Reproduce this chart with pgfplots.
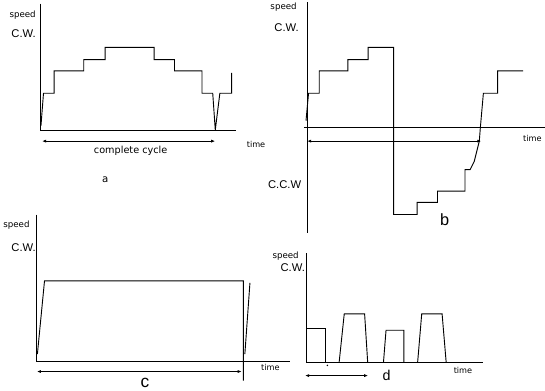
\documentclass[border=0pt]{standalone}
\usepackage{pgfplots}
\pgfplotsset{compat=1.18}
\usepackage{fontspec}
\setmainfont{Liberation Sans}
\newfontfamily\dejavu{DejaVu Sans}
\usetikzlibrary{arrows.meta}
\pgfplotsset{ln/.style={black, solid, line width=0.9pt, mark=none},
  arr/.style={black, solid, line width=0.8pt, mark=none, {Latex[length=4pt,width=3pt]}-{Latex[length=4pt,width=3pt]}}}
\tikzset{sp/.style={font=\dejavu\fontsize{8.5}{9}\selectfont},
  tm/.style={font=\dejavu\fontsize{8}{9}\selectfont},
  cw/.style={font=\fontsize{11}{12}\selectfont}}
\begin{document}
\begin{tikzpicture}
\begin{axis}[
  scale only axis, width=545pt, height=389pt,
  xmin=0, xmax=545, ymin=0, ymax=389, y dir=reverse,
  hide axis, clip=false,
]
% ---- axes lines ----
\addplot[ln] coordinates {(51,8) (51,133) (242,133)};
\addplot[ln] coordinates {(312,7) (312,233)};
\addplot[ln] coordinates {(309,130) (545,130)};
\addplot[ln] coordinates {(47,215) (47,359) (295,359)};
\addplot[ln] coordinates {(311,253) (311,360) (485,360)};
% ---- panel a ----
\addplot[ln] coordinates {(51,128) (53.5,96) (64,96) (64,74) (93,74) (93,63) (114,63) (114,51) (162,51) (162,63) (182,63) (182,74) (209,74) (209,96) (219.5,96) (222,132) (226.5,96) (238,96) (238,76)};
% ---- panel b ----
\addplot[ln] coordinates {(311,123) (313.5,96) (324,96) (324,74) (352,74) (352,63) (372,63) (372,51) (397,51) (397,215) (420,215) (420,203) (440,203) (440,192) (467,192) (467,171) (472,171) (476,163) (481,143) (482,130) (485,96) (499,96) (499,74) (524,74)};
% ---- panel c ----
\addplot[ln] coordinates {(47.5,352) (54.5,280) (249.5,280) (249.5,378)};
\addplot[ln] coordinates {(251,352) (256,282)};
% ---- panel d ----
\addplot[ln] coordinates {(311,360) (311,327) (330,327) (330,360)};
\addplot[ln] coordinates {(343.5,360) (348.5,312.5) (368.5,312.5) (371.5,360)};
\addplot[ln] coordinates {(387,360) (389.5,328.5) (407,328.5) (407,360)};
\addplot[ln] coordinates {(420.5,360) (424.5,312.5) (444.5,312.5) (448.5,360)};
\addplot [black, only marks, mark=*, mark size=0.5pt] coordinates {(332,363)};
% ---- cycle arrows ----
\addplot[arr] coordinates {(52,143) (222,143)};
\addplot[arr] coordinates {(312,143) (483,143)};
\addplot[arr] coordinates {(47,369) (248,369)};
\addplot[arr] coordinates {(310,373) (372,373)};
% ---- texts ----
\node[sp] at (axis cs:33,19) {speed};
\node[cw] at (axis cs:34,38) {C.W.};
\node[tm] at (axis cs:262,146) {time};
\node[font=\dejavu\fontsize{9.5}{10}\selectfont] at (axis cs:139,153) {complete cycle};
\node[font=\dejavu\fontsize{10}{11}\selectfont] at (axis cs:114,181) {a};
\node[sp] at (axis cs:289,12) {speed};
\node[cw] at (axis cs:292,32) {C.W.};
\node[cw] at (axis cs:290,186) {C.C.W};
\node[tm] at (axis cs:533,140) {time};
\node[font=\fontsize{16}{17}\selectfont] at (axis cs:447,220) {b};
\node[sp] at (axis cs:27,225) {speed};
\node[cw] at (axis cs:34,247) {C.W.};
\node[tm] at (axis cs:276,365) {time};
\node[font=\fontsize{17}{18}\selectfont] at (axis cs:153,380) {c};
\node[sp] at (axis cs:291,256) {speed};
\node[cw] at (axis cs:298,267) {C.W.};
\node[tm] at (axis cs:465,368) {time};
\node[font=\fontsize{14}{15}\selectfont] at (axis cs:390,373) {d};
\end{axis}
\end{tikzpicture}
\end{document}
